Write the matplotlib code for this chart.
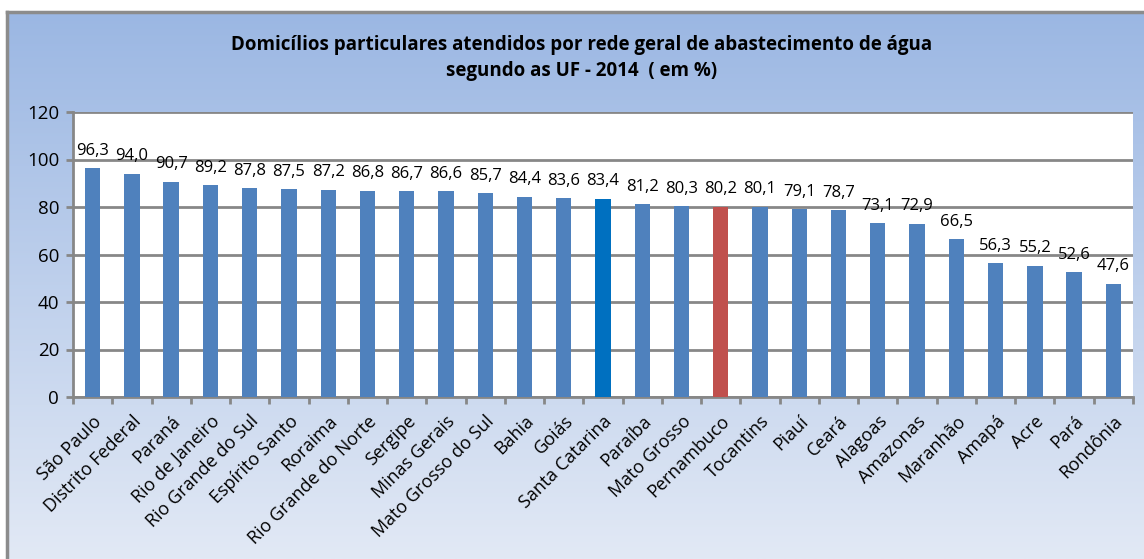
import numpy as np
import matplotlib
matplotlib.use("Agg")
import matplotlib.pyplot as plt

categories = ["São Paulo", "Distrito Federal", "Paraná", "Rio de Janeiro", "Rio Grande do Sul",
              "Espírito Santo", "Roraima", "Rio Grande do Norte", "Sergipe", "Minas Gerais",
              "Mato Grosso do Sul", "Bahia", "Goiás", "Santa Catarina", "Paraíba", "Mato Grosso",
              "Pernambuco", "Tocantins", "Piauí", "Ceará", "Alagoas", "Amazonas", "Maranhão",
              "Amapá", "Acre", "Pará", "Rondônia"]
values = [96.3, 94.0, 90.7, 89.2, 87.8, 87.5, 87.2, 86.8, 86.7, 86.6, 85.7, 84.4, 83.6, 83.4,
          81.2, 80.3, 80.2, 80.1, 79.1, 78.7, 73.1, 72.9, 66.5, 56.3, 55.2, 52.6, 47.6]
yticks = [0, 20, 40, 60, 80, 100, 120]
title = "Domicílios particulares atendidos por rede geral de abastecimento de água\nsegundo as UF - 2014  ( em %)"

plt.rcParams['font.family'] = ['Open Sans', 'DejaVu Sans']

W, H = 1144, 559
fig = plt.figure(figsize=(W / 100, H / 100), dpi=100)

# background frame with gradient
bg = fig.add_axes([7 / W, 0, 1 - 7 / W, 1 - 12 / H])
top = np.array([155, 183, 227]) / 255
bot = np.array([226, 233, 245]) / 255
t = np.linspace(0, 1, 256)[:, None]
grad = top * (1 - t) + bot * t
bg.imshow(grad[:, None, :].repeat(2, axis=1), aspect='auto', extent=[0, 1, 0, 1], origin='upper')
bg.set_xlim(0, 1); bg.set_ylim(0, 1)
bg.set_xticks([]); bg.set_yticks([])
for s in ['right', 'bottom']:
    bg.spines[s].set_visible(False)
for s in ['left', 'top']:
    bg.spines[s].set_color('#8c8c8c')
    bg.spines[s].set_linewidth(2.5)

fig.text(582 / W, 1 - 58 / H, title, ha='center', va='center', fontsize=13.5,
         fontweight='bold', linespacing=1.45)

left, right, ytop, ybot = 73, 1133, 112, 397
ax = fig.add_axes([left / W, 1 - ybot / H, (right - left) / W, (ybot - ytop) / H])
ax.set_facecolor('white')
x = np.arange(len(categories))
colors = ['#4F81BD'] * len(categories)
colors[categories.index("Santa Catarina")] = '#0070C0'
colors[categories.index("Pernambuco")] = '#C0504D'
ax.bar(x, values, width=0.39, color=colors, zorder=3)
for xi, v in zip(x, values):
    ax.text(xi, v + 4.0, f"{v:.1f}".replace('.', ','), ha='center', va='bottom', fontsize=12)

ax.set_xlim(-0.5, len(categories) - 0.5)
ax.set_ylim(0, 120)
ax.set_yticks(yticks)
ax.set_yticklabels([str(v) for v in yticks], fontsize=13.5)
ax.yaxis.grid(True, color='#878787', linewidth=2, zorder=1)
ax.set_axisbelow(True)
ax.set_xticks(np.arange(-0.5, len(categories), 1), minor=False)
ax.set_xticklabels([])
ax.set_xticks(x, minor=True)
ax.set_xticklabels(categories, minor=True, rotation=45, ha='right', rotation_mode='anchor',
                   fontsize=13)
ax.tick_params(axis='x', which='minor', length=0, pad=11)
ax.tick_params(axis='x', which='major', length=5, width=2, color='#878787')
ax.tick_params(axis='y', length=5, width=2, color='#878787', pad=5)
for s in ['top', 'right']:
    ax.spines[s].set_visible(False)
for s in ['left', 'bottom']:
    ax.spines[s].set_color('#878787')
    ax.spines[s].set_linewidth(2)

fig.savefig('out.png', dpi=100)
